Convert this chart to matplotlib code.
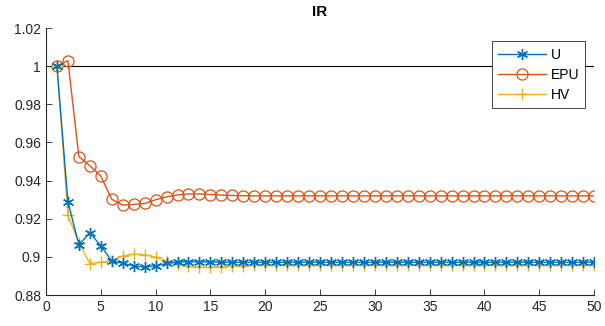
import numpy as np
import matplotlib.pyplot as plt

plt.rcParams['font.family'] = ['Liberation Sans', 'DejaVu Sans']

# iterations 1..50
x = np.arange(1, 51)

u_head = [1.0, 0.929, 0.9063, 0.9127, 0.9058, 0.8979, 0.8967, 0.8953, 0.8946, 0.8953,
          0.8966, 0.8972, 0.8974, 0.8974, 0.8973]
u_tail = [0.8972] * 35

epu_head = [1.0, 1.0029, 0.9526, 0.9478, 0.9424, 0.9302, 0.9272, 0.9275, 0.928, 0.930,
            0.9315, 0.9325, 0.9330, 0.9330, 0.9327, 0.9324, 0.9322, 0.9321]
epu_tail = [0.932] * 32

hv_head = [1.0, 0.922, 0.9075, 0.8965, 0.8972, 0.8978, 0.9005, 0.9014, 0.9012, 0.8998,
           0.8978, 0.8962, 0.8950, 0.8946, 0.8946, 0.8949, 0.8952, 0.8954]
hv_tail = [0.8955] * 32

U = np.array(u_head + u_tail)
EPU = np.array(epu_head + epu_tail)
HV = np.array(hv_head + hv_tail)

c_u = '#0072BD'
c_epu = '#D95319'
c_hv = '#EDB120'
axcol = '#262626'

fig = plt.figure(figsize=(6.05, 3.26), dpi=100)
ax = fig.add_axes([0.076, 0.095, 0.906, 0.819])

ax.plot([0, 50], [1, 1], color='black', lw=0.8, zorder=1)
ax.plot(x, U, color=c_u, marker=(6, 2, 0), ms=8, mew=1, lw=1, label='U', zorder=3)
ax.plot(x, EPU, color=c_epu, marker='o', ms=8, mfc='none', mew=0.9, lw=1, label='EPU', zorder=2)
ax.plot(x, HV, color=c_hv, marker='+', ms=8, mew=1, lw=1, label='HV', zorder=2)

ax.set_xlim(0, 50)
ax.set_ylim(0.88, 1.02)
ax.set_xticks(np.arange(0, 51, 5))
ax.set_yticks([0.88, 0.9, 0.92, 0.94, 0.96, 0.98, 1, 1.02])
ax.set_yticklabels(['0.88', '0.9', '0.92', '0.94', '0.96', '0.98', '1', '1.02'])
ax.tick_params(direction='in', length=4, width=0.6, colors=axcol, labelsize=10)
for s in ['top', 'right']:
    ax.spines[s].set_visible(False)
for s in ['left', 'bottom']:
    ax.spines[s].set_color(axcol)
    ax.spines[s].set_linewidth(0.8)

ax.set_title('IR', fontsize=11, fontweight='bold', color='black', pad=9)

leg = ax.legend(loc='upper right', bbox_to_anchor=(0.984, 0.95), fontsize=10, fancybox=False,
                framealpha=1, edgecolor=axcol, handlelength=3.4, borderpad=0.45,
                labelspacing=0.45, handletextpad=0.35, borderaxespad=0)
leg.get_frame().set_linewidth(0.6)

fig.savefig('out.png', dpi=100)
